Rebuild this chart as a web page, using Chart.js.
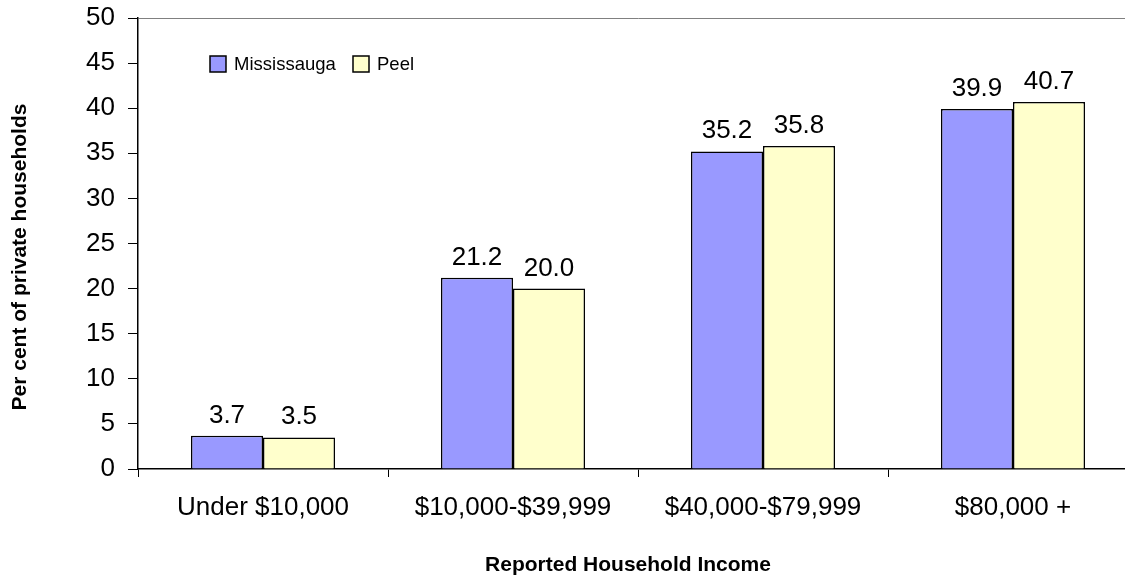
<!DOCTYPE html>
<html>
<head>
<meta charset="utf-8">
<script src="https://cdn.jsdelivr.net/npm/chart.js@4.4.1/dist/chart.umd.min.js"></script>
<style>
  html, body { margin: 0; padding: 0; background: #fff; overflow: hidden; }
  #wrap { width: 1140px; height: 577px; }
</style>
</head>
<body>
<div id="wrap"><canvas id="incomeChart" width="1140" height="577"></canvas></div>
<script>
// Household income distribution, Mississauga vs Peel
const incomeGroups = ['Under $10,000', '$10,000-$39,999', '$40,000-$79,999', '$80,000 +'];
const mississauga = [3.7, 21.2, 35.2, 39.9];
const peel = [3.5, 20.0, 35.8, 40.7];
const yTicks = [0, 5, 10, 15, 20, 25, 30, 35, 40, 45, 50];

const FONT = 'Arial, "Liberation Sans", sans-serif';

// Value labels above each bar
const valueLabels = {
    id: 'valueLabels',
    afterDatasetsDraw(chart) {
        const ctx = chart.ctx;
        ctx.save();
        ctx.font = '26px ' + FONT;
        ctx.fillStyle = '#000';
        ctx.textAlign = 'center';
        ctx.textBaseline = 'alphabetic';
        chart.data.datasets.forEach((ds, i) => {
            chart.getDatasetMeta(i).data.forEach((bar, j) => {
                ctx.fillText(ds.data[j].toFixed(1), bar.x, bar.y - 13);
            });
        });
        ctx.restore();
    }
};

// Legend inside the plot area plus the two axis titles
const decorations = {
    id: 'decorations',
    afterDraw(chart) {
        const ctx = chart.ctx;
        ctx.save();

        // legend
        const legendX = [210, 353];
        ctx.font = '18.5px ' + FONT;
        ctx.textBaseline = 'middle';
        ctx.textAlign = 'left';
        chart.data.datasets.forEach((ds, i) => {
            const x = legendX[i];
            ctx.fillStyle = ds.backgroundColor;
            ctx.fillRect(x, 56, 16, 16);
            ctx.strokeStyle = '#000';
            ctx.lineWidth = 1.5;
            ctx.strokeRect(x, 56, 16, 16);
            ctx.fillStyle = '#000';
            ctx.fillText(ds.label, x + 24, 65);
        });

        // axis titles
        ctx.font = 'bold 21px ' + FONT;
        ctx.textAlign = 'center';
        ctx.textBaseline = 'middle';
        ctx.fillText('Reported Household Income', 628, 565);

        ctx.translate(20, 257);
        ctx.rotate(-Math.PI / 2);
        ctx.fillText('Per cent of private households', 0, 0);
        ctx.restore();
    }
};

new Chart(document.getElementById('incomeChart'), {
    type: 'bar',
    data: {
        labels: incomeGroups,
        datasets: [
            {
                label: 'Mississauga',
                data: mississauga,
                backgroundColor: '#9999FF',
                borderColor: '#000',
                borderWidth: 1.5,
                borderSkipped: 'bottom'
            },
            {
                label: 'Peel',
                data: peel,
                backgroundColor: '#FFFFCC',
                borderColor: '#000',
                borderWidth: 1.5,
                borderSkipped: 'bottom'
            }
        ]
    },
    options: {
        responsive: false,
        animation: false,
        devicePixelRatio: 1,
        categoryPercentage: 0.576,
        barPercentage: 1,
        layout: { padding: { top: 18, right: 2, left: 0, bottom: 0 } },
        plugins: {
            legend: { display: false },
            tooltip: { enabled: false }
        },
        scales: {
            x: {
                afterFit(scale) {
                    scale.height = 108;
                    scale.paddingLeft = 0;
                    scale.paddingRight = 0;
                },
                grid: {
                    offset: true,
                    color: 'transparent',
                    tickColor: '#000',
                    tickLength: 8,
                    drawOnChartArea: false
                },
                border: { color: '#000', width: 1.5 },
                ticks: {
                    color: '#000',
                    font: { family: FONT, size: 26 },
                    padding: 15,
                    maxRotation: 0
                }
            },
            y: {
                min: 0,
                max: 50,
                afterFit(scale) {
                    scale.width = 138;
                    // let the top label overhang instead of pushing the plot down
                    scale.paddingTop = 0;
                    scale.paddingBottom = 0;
                },
                afterBuildTicks(scale) {
                    scale.ticks = yTicks.map(v => ({ value: v }));
                },
                grid: {
                    color: ctx => (ctx.tick && ctx.tick.value === 50 ? '#808080' : 'transparent'),
                    tickColor: '#000',
                    tickLength: 10
                },
                border: { color: '#000', width: 1.5 },
                ticks: {
                    color: '#000',
                    font: { family: FONT, size: 26 },
                    padding: 13
                }
            }
        }
    },
    plugins: [valueLabels, decorations]
});
</script>
</body>
</html>
